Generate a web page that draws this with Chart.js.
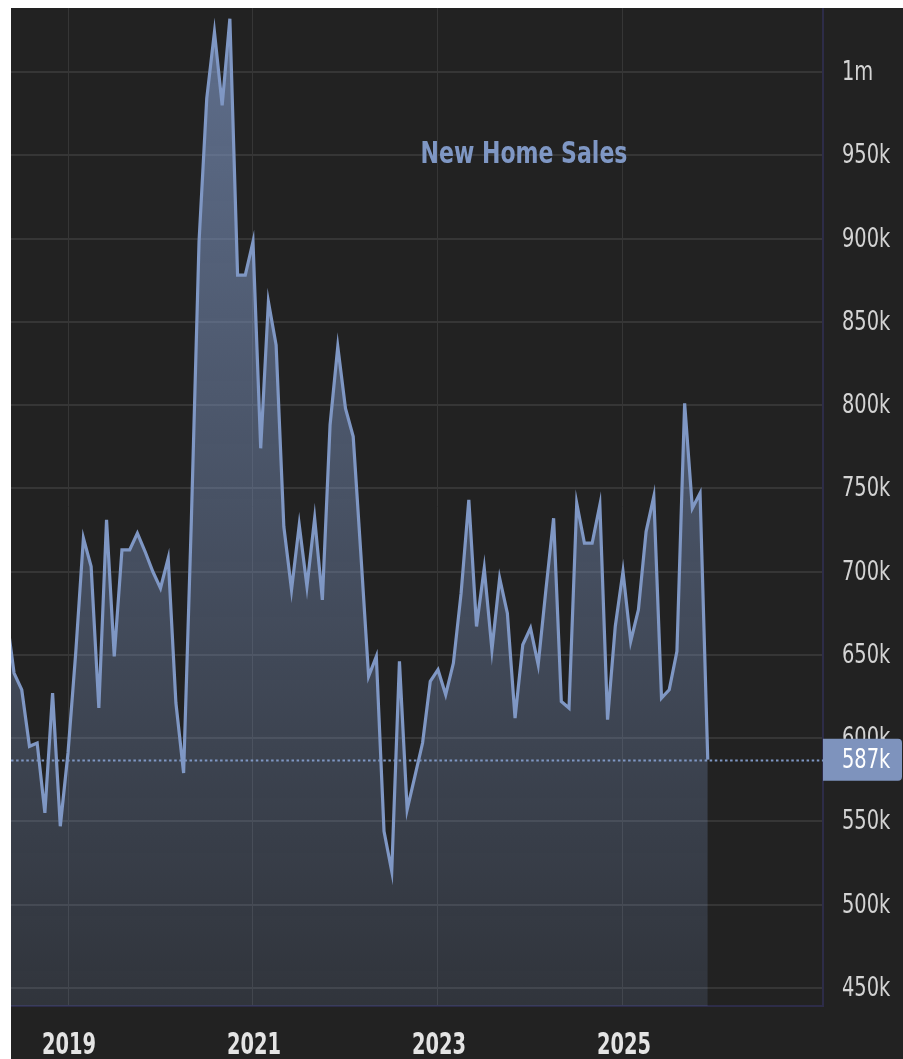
<!DOCTYPE html>
<html><head><meta charset="utf-8">
<script src="https://cdn.jsdelivr.net/npm/chart.js@4.4.1/dist/chart.umd.min.js"></script>
<style>
html,body{margin:0;padding:0;background:#ffffff;width:903px;height:1059px;overflow:hidden;}
#wrap{position:absolute;left:11px;top:8px;width:892px;height:1051px;background:#222222;}
</style></head><body>
<div id="wrap"><canvas id="c"></canvas></div>
<script>
// ---- data (thousands, SAAR) ----
const chartTitle = 'New Home Sales';
const startYear = 2018;
const startMonth = 5; // May 2018
const sales = [
  674, 639, 629, 595, 597, 555, 627, 547,
  591, 651, 720, 703, 618, 731, 649, 713, 713, 723, 712, 700,
  690, 708, 621, 579, 730, 898, 984, 1024, 980, 1032, 878, 878,
  898, 774, 862, 836, 727, 689, 728, 691, 732, 683, 788, 835,
  798, 781, 710, 637, 649, 544, 520, 646, 557, 577, 597, 634,
  641, 626, 645, 687, 743, 667, 702, 653, 696, 675, 612, 656,
  666, 644, 689, 732, 622, 618, 741, 717, 717, 740, 611, 667,
  700, 658, 677, 724, 745, 624, 629, 652, 801, 738, 747, 587
];
const yearLabels = ['2019', '2021', '2023', '2025'];
const valueTicks = [450, 500, 550, 600, 650, 700, 750, 800, 850, 900, 950, 1000];
const lastValue = sales[sales.length - 1];

// month index relative to Jan of first labelled year
const baseYear = Number(yearLabels[0]);
const monthIndex = sales.map((_, i) => (startYear - baseYear) * 12 + (startMonth - 1) + i);
const points = sales.map((v, i) => ({ x: monthIndex[i], y: v }));
const yearTickValues = yearLabels.map(y => (Number(y) - baseYear) * 12);

const LINE = '#7f97c4';
const FONT = "'DejaVu Sans Condensed', 'DejaVu Sans', sans-serif";
const fmt = v => v >= 1000 ? (v / 1000) + 'm' : v + 'k';

function squeezedText(ctx, text, x, y, sx) {
  ctx.save();
  ctx.translate(x, y);
  ctx.scale(sx, 1);
  ctx.fillText(text, 0, 0);
  ctx.restore();
}

const refLine = {
  id: 'refLine',
  beforeDatasetsDraw(chart) {
    const { ctx, chartArea, scales } = chart;
    const y = Math.round(scales.y.getPixelForValue(lastValue)) + 0.5;
    ctx.save();
    ctx.strokeStyle = LINE;
    ctx.lineWidth = 2;
    ctx.setLineDash([2.5, 2.6]);
    ctx.beginPath();
    ctx.moveTo(chartArea.left, y);
    ctx.lineTo(chartArea.right, y);
    ctx.stroke();
    ctx.restore();
  },
  afterDraw(chart) {
    const { ctx, chartArea, scales, width } = chart;
    ctx.save();
    // y axis labels
    ctx.fillStyle = '#d4d4d4';
    ctx.font = '27px ' + FONT;
    ctx.textAlign = 'left';
    ctx.textBaseline = 'middle';
    valueTicks.forEach(v => {
      squeezedText(ctx, fmt(v), chartArea.right + 19, scales.y.getPixelForValue(v) + 1, 0.8);
    });
    // x axis labels
    ctx.fillStyle = '#e4e4e4';
    ctx.font = 'bold 30px ' + FONT;
    ctx.textAlign = 'center';
    yearTickValues.forEach((v, i) => {
      squeezedText(ctx, yearLabels[i], scales.x.getPixelForValue(v) + 1, chartArea.bottom + 40, 0.72);
    });
    // value box
    const y = scales.y.getPixelForValue(lastValue);
    const h = 42, x0 = chartArea.right, x1 = width - 1, r = 4;
    ctx.fillStyle = '#7e93bd';
    ctx.beginPath();
    ctx.moveTo(x0, y - h / 2);
    ctx.lineTo(x1 - r, y - h / 2);
    ctx.quadraticCurveTo(x1, y - h / 2, x1, y - h / 2 + r);
    ctx.lineTo(x1, y + h / 2 - r);
    ctx.quadraticCurveTo(x1, y + h / 2, x1 - r, y + h / 2);
    ctx.lineTo(x0, y + h / 2);
    ctx.closePath();
    ctx.fill();
    ctx.fillStyle = '#ffffff';
    ctx.font = '27px ' + FONT;
    ctx.textAlign = 'left';
    squeezedText(ctx, fmt(lastValue), chartArea.right + 19, y + 1, 0.8);
    // title
    ctx.fillStyle = LINE;
    ctx.font = 'bold 31px ' + FONT;
    ctx.textAlign = 'center';
    squeezedText(ctx, chartTitle, chartArea.left + 513, chartArea.top + 147, 0.79);
    ctx.restore();
  }
};

new Chart(document.getElementById('c'), {
  type: 'line',
  data: {
    datasets: [{
      data: points,
      borderColor: LINE,
      borderWidth: 3.2,
      pointRadius: 0,
      tension: 0,
      fill: 'start',
      backgroundColor: (ctx) => {
        const { chart } = ctx;
        const area = chart.chartArea;
        if (!area) return 'rgba(127,151,196,0.4)';
        const g = chart.ctx.createLinearGradient(0, area.top, 0, area.bottom);
        g.addColorStop(0, 'rgba(127,151,196,0.66)');
        g.addColorStop(1, 'rgba(127,151,196,0.16)');
        return g;
      }
    }]
  },
  options: {
    responsive: true,
    maintainAspectRatio: false,
    animation: false,
    devicePixelRatio: 1,
    layout: { padding: 0 },
    plugins: { legend: { display: false }, tooltip: { enabled: false }, title: { display: false } },
    scales: {
      x: {
        type: 'linear',
        min: -7.395,
        max: 97.95,
        afterBuildTicks: s => { s.ticks = yearTickValues.map(v => ({ value: v })); },
        afterFit: s => { s.height = 53; s.paddingLeft = 0; s.paddingRight = 0; },
        grid: { color: '#363636', lineWidth: 1, drawTicks: false },
        border: { color: '#2d2c48', width: 2 },
        ticks: { display: false }
      },
      y: {
        position: 'right',
        min: 439.04,
        max: 1038.44,
        afterBuildTicks: s => { s.ticks = valueTicks.map(v => ({ value: v })); },
        afterFit: s => { s.width = 80; s.paddingTop = 0; s.paddingBottom = 0; },
        grid: { color: '#363636', lineWidth: 2, drawTicks: false },
        border: { color: '#2d2c48', width: 2 },
        ticks: { display: false }
      }
    }
  },
  plugins: [refLine]
});
</script>
</body></html>
